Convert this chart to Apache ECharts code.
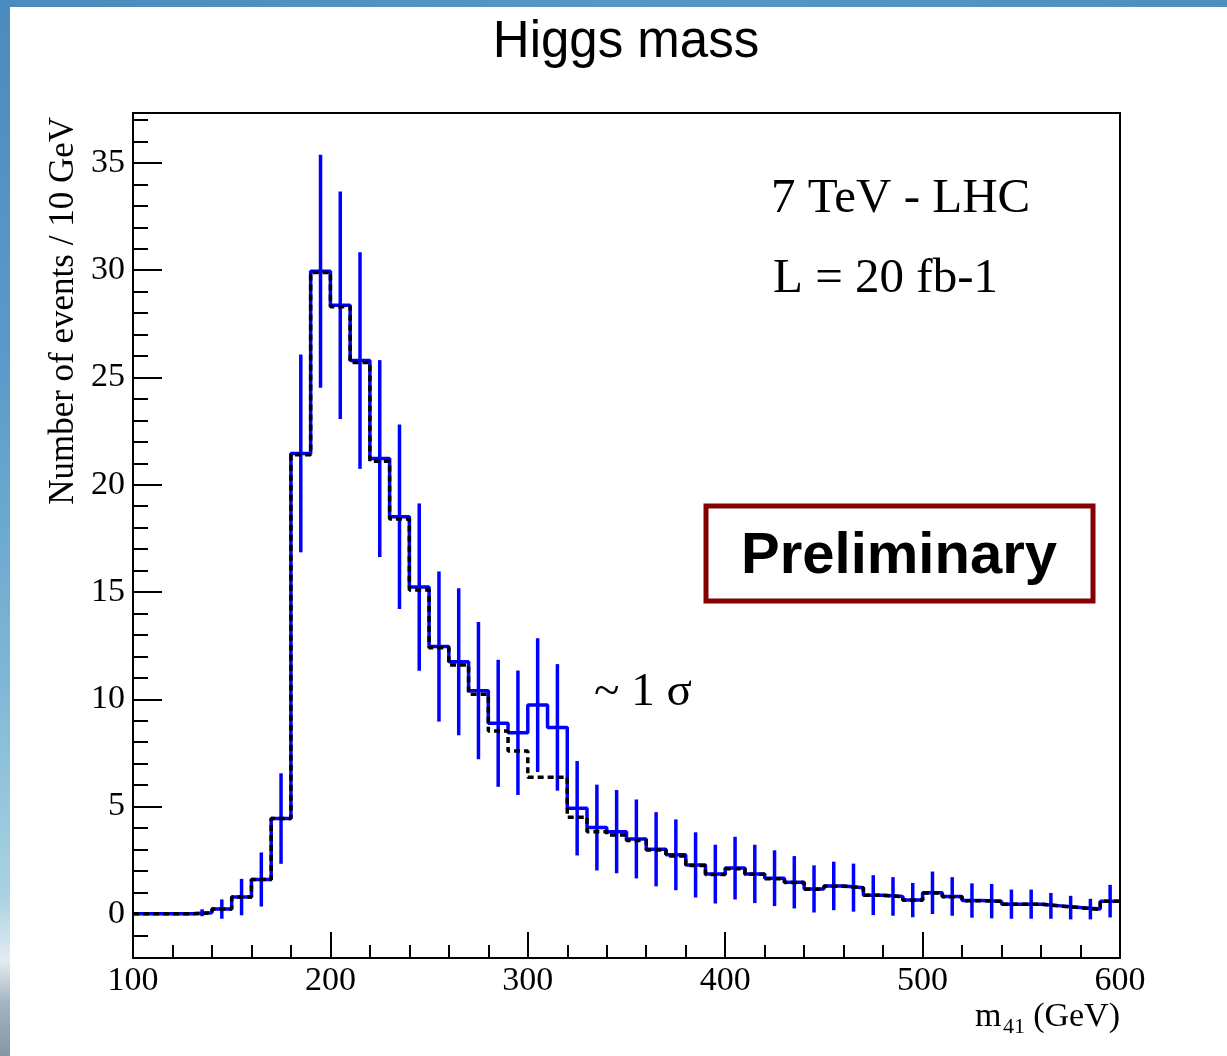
<!DOCTYPE html>
<html><head><meta charset="utf-8">
<script src="https://cdn.jsdelivr.net/npm/echarts@6/dist/echarts.min.js"></script>
<style>
html,body{margin:0;padding:0;background:#fff;overflow:hidden;}
#chart{position:absolute;left:0;top:0;width:1227px;height:1056px;}
#stripTop{position:absolute;left:0;top:0;width:1227px;height:7px;background:linear-gradient(to right,#4b8bbd,#5797c6 50%,#4f8fc0);z-index:5}
#stripLeft{position:absolute;left:0;top:0;width:10px;height:1056px;background:linear-gradient(to bottom,#4b8bbd 0%,#5a9bc9 35%,#7fb8d6 65%,#a9d3e2 85%,#e3ecf0 91%,#a3b4c0 95%,#8696a3 100%);z-index:5}
</style></head><body>
<div id="chart"></div><div id="stripTop"></div><div id="stripLeft"></div>
<script>
// bin low edges (GeV), bin width 10
const binLow = [100,110,120,130,140,150,160,170,180,190,200,210,220,230,240,250,260,270,280,290,300,310,320,330,340,350,360,370,380,390,400,410,420,430,440,450,460,470,480,490,500,510,520,530,540,550,560,570,580,590];
const xEnd = 600;
// blue histogram (with error bars)
const dataVals = [0,0,0,0.05,0.22,0.78,1.60,4.44,21.46,29.95,28.37,25.79,21.22,18.51,15.23,12.46,11.75,10.40,8.88,8.44,9.73,8.69,4.92,4.02,3.83,3.49,3.01,2.75,2.28,1.85,2.13,1.86,1.66,1.47,1.16,1.30,1.22,0.87,0.81,0.64,0.98,0.81,0.62,0.59,0.45,0.45,0.37,0.29,0.22,0.59];
// error bar half-heights
const dataErr = [0,0,0,0.16,0.45,0.85,1.26,2.11,4.61,5.43,5.30,5.05,4.59,4.30,3.90,3.50,3.43,3.20,2.96,2.90,3.12,2.95,2.20,2.00,1.94,1.84,1.73,1.65,1.52,1.37,1.46,1.36,1.30,1.22,1.10,1.13,1.12,0.93,0.90,0.80,0.99,0.90,0.80,0.80,0.68,0.68,0.60,0.55,0.48,0.76];
// black dashed histogram (expectation)
const expVals = [0,0,0,0.05,0.22,0.78,1.60,4.44,21.40,29.90,28.30,25.70,21.10,18.40,15.10,12.40,11.60,10.23,8.52,7.59,6.36,6.36,4.50,3.83,3.67,3.42,2.98,2.70,2.25,1.83,2.10,1.84,1.64,1.46,1.15,1.29,1.21,0.86,0.80,0.63,0.97,0.80,0.61,0.58,0.45,0.45,0.36,0.28,0.21,0.58];
const xMajorTicks = [100,200,300,400,500,600];
const xMinorTicks = [120,140,160,180,220,240,260,280,320,340,360,380,420,440,460,480,520,540,560,580];
const yMajorTicks = [0,5,10,15,20,25,30,35];
const yMinorTicks = [-1,1,2,3,4,6,7,8,9,11,12,13,14,16,17,18,19,21,22,23,24,26,27,28,29,31,32,33,34,36,37];
const yMin = -2.06, yMax = 37.33;

const chart = echarts.init(document.getElementById('chart'), null, {renderer:'canvas'});
const serif = 'Liberation Serif';

function stepData(vals){
  const d = binLow.map((x,i)=>[x, vals[i]]);
  d.push([xEnd, vals[vals.length-1]]);
  return d;
}
const errData = binLow.map((x,i)=>[x+5, dataVals[i]-dataErr[i], dataVals[i]+dataErr[i]]);

const tickLine = {color:'#000', width:2};
const option = {
  animation:false,
  backgroundColor:'#ffffff',
  grid:{left:133,right:107,top:113,bottom:98,show:true,borderColor:'#000',borderWidth:2,backgroundColor:'#fff'},
  xAxis:[
    {type:'value',min:100,max:600,position:'bottom',
     axisLine:{show:true,onZero:false,lineStyle:tickLine},
     axisTick:{show:true,inside:true,length:26,customValues:xMajorTicks,lineStyle:tickLine},
     axisLabel:{show:true,customValues:xMajorTicks,fontFamily:serif,fontSize:34,color:'#000',margin:6},
     splitLine:{show:false}},
    {type:'value',min:100,max:600,position:'bottom',
     axisLine:{show:false,onZero:false},
     axisTick:{show:true,inside:true,length:13,customValues:xMinorTicks,lineStyle:tickLine},
     axisLabel:{show:false},splitLine:{show:false}}
  ],
  yAxis:[
    {type:'value',min:yMin,max:yMax,position:'left',
     axisLine:{show:true,onZero:false,lineStyle:tickLine},
     axisTick:{show:true,inside:true,length:29,customValues:yMajorTicks,lineStyle:tickLine},
     axisLabel:{show:true,customValues:yMajorTicks,fontFamily:serif,fontSize:34,color:'#000',margin:8},
     splitLine:{show:false}},
    {type:'value',min:yMin,max:yMax,position:'left',
     axisLine:{show:false,onZero:false},
     axisTick:{show:true,inside:true,length:15,customValues:yMinorTicks,lineStyle:tickLine},
     axisLabel:{show:false},splitLine:{show:false}}
  ],
  series:[
    {type:'line',name:'data',step:'end',data:stepData(dataVals),showSymbol:false,symbol:'none',
     lineStyle:{color:'#0000ff',width:3.5},z:2,clip:true},
    {type:'custom',name:'err',data:errData,z:2,clip:true,
     encode:{x:0,y:[1,2]},
     renderItem:function(params,api){
       const x=api.value(0), lo=api.value(1), hi=api.value(2);
       const p1=api.coord([x,lo]), p2=api.coord([x,hi]);
       return {type:'line',shape:{x1:p1[0],y1:p1[1],x2:p2[0],y2:p2[1]},style:{stroke:'#0000ff',lineWidth:3.5}};
     }},
    {type:'line',name:'exp',step:'end',data:stepData(expVals),showSymbol:false,symbol:'none',
     lineStyle:{color:'#000',width:3.5,type:[6,4]},z:3,clip:true}
  ],
  graphic:[
    {type:'text',x:626,y:43,style:{text:'Higgs mass',font:'51px "Liberation Sans"',fill:'#000',align:'center',verticalAlign:'middle'}},
    {type:'text',x:64,y:117,rotation:Math.PI/2,style:{text:'Number of events / 10 GeV',font:'35px "Liberation Serif"',fill:'#000',align:'right',verticalAlign:'middle'}},
    {type:'text',x:771,y:199,style:{text:'7 TeV - LHC',font:'49px "Liberation Serif"',fill:'#000',align:'left',verticalAlign:'middle'}},
    {type:'text',x:773,y:279,style:{text:'L = 20 fb-1',font:'49px "Liberation Serif"',fill:'#000',align:'left',verticalAlign:'middle'}},
    {type:'text',x:594,y:693,style:{text:'~ 1 σ',font:'47px "Liberation Serif"',fill:'#000',align:'left',verticalAlign:'middle'}},
    {type:'rect',shape:{x:706,y:506,width:387,height:95},style:{fill:'#fff',stroke:'#850000',lineWidth:5},z:10},
    {type:'text',x:899,y:557,z:11,style:{text:'Preliminary',font:'bold 58px "Liberation Sans"',fill:'#000',align:'center',verticalAlign:'middle'}},
    {type:'text',x:975,y:1017,style:{text:'m',font:'34px "Liberation Serif"',fill:'#000',align:'left',verticalAlign:'middle'}},
    {type:'text',x:1003,y:1027,style:{text:'41',font:'22px "Liberation Serif"',fill:'#000',align:'left',verticalAlign:'middle'}},
    {type:'text',x:1120,y:1017,style:{text:'(GeV)',font:'34px "Liberation Serif"',fill:'#000',align:'right',verticalAlign:'middle'}}
  ]
};
chart.setOption(option);
</script>
</body></html>
